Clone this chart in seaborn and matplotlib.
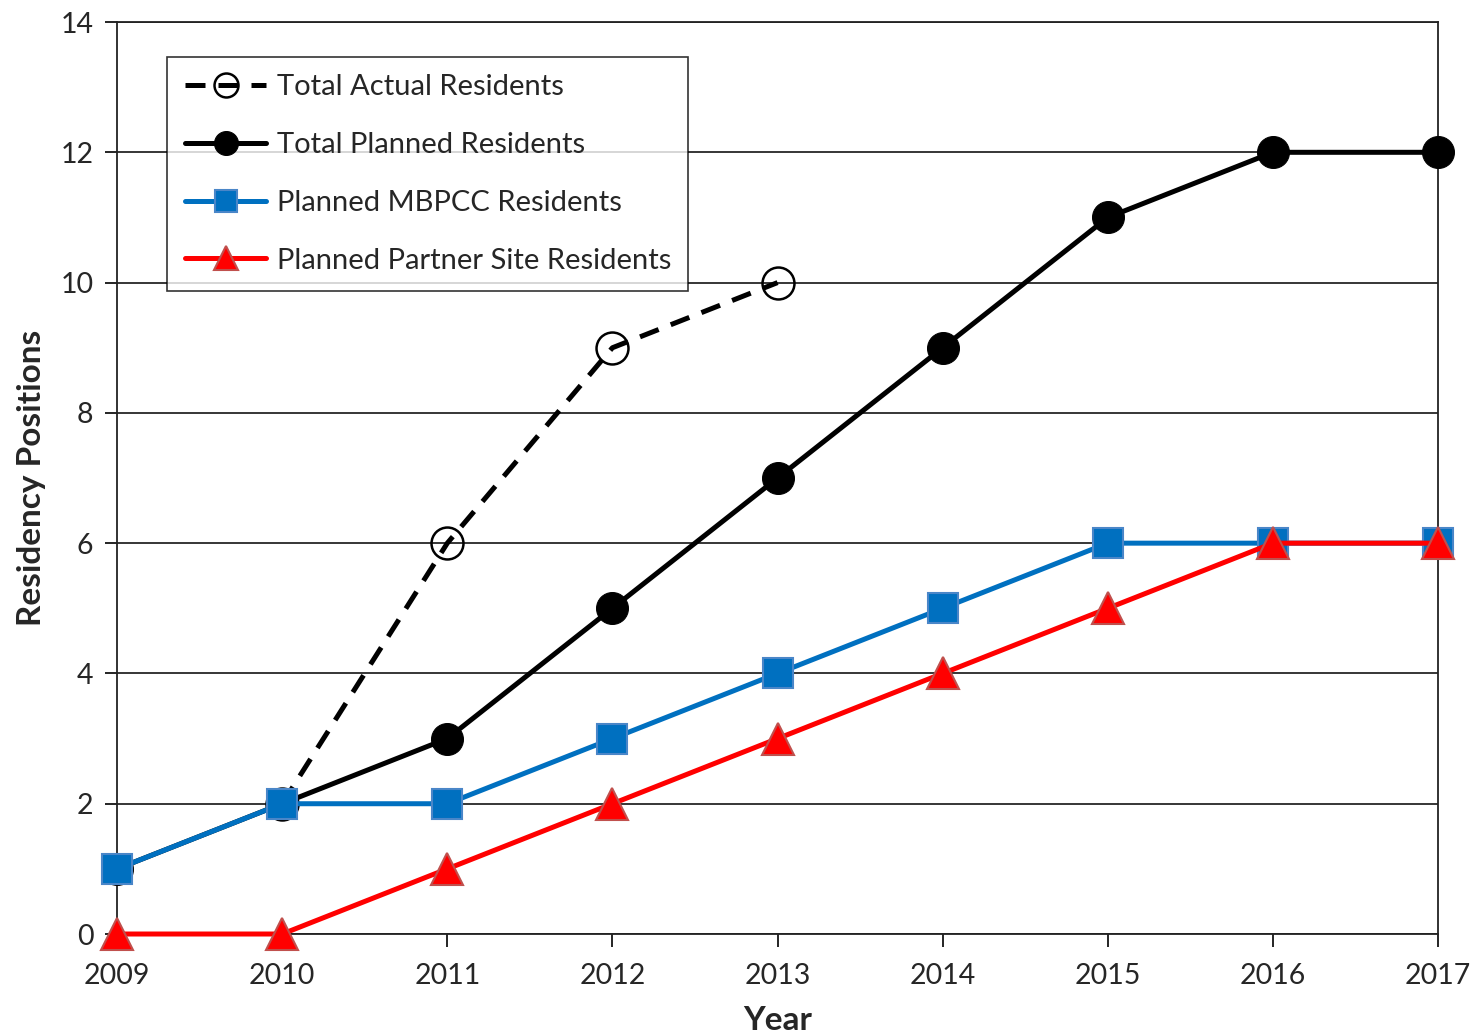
import matplotlib
matplotlib.use("Agg")
import matplotlib.pyplot as plt
import seaborn as sns

# data
years = [2009, 2010, 2011, 2012, 2013, 2014, 2015, 2016, 2017]
actual_years = [2010, 2011, 2012, 2013]
total_actual = [2, 6, 9, 10]
total_planned = [1, 2, 3, 5, 7, 9, 11, 12, 12]
planned_mbpcc = [1, 2, 2, 3, 4, 5, 6, 6, 6]
planned_partner = [0, 0, 1, 2, 3, 4, 5, 6, 6]

sns.set_style("white")
plt.rcParams['font.family'] = ['Lato', 'DejaVu Sans']

fig = plt.figure(figsize=(14.76, 10.34), dpi=100)
ax = fig.add_axes([0.0793, 0.0967, 0.8950, 0.8820])

lw = 3.6
# series
sns.lineplot(x=actual_years, y=total_actual, ax=ax, color='black', linewidth=lw,
             linestyle=(0, (4, 2.6)), marker='o', markersize=23, markerfacecolor='none',
             markeredgecolor='black', markeredgewidth=1.8, label='Total Actual Residents',
             zorder=3, clip_on=False)
sns.lineplot(x=years, y=total_planned, ax=ax, color='black', linewidth=lw,
             marker='o', markersize=23, markeredgecolor='black',
             label='Total Planned Residents', zorder=4, clip_on=False)
sns.lineplot(x=years, y=planned_mbpcc, ax=ax, color='#0070C0', linewidth=lw,
             marker='s', markersize=21, markeredgecolor='#4A86C8', markeredgewidth=1.5,
             label='Planned MBPCC Residents', zorder=5, clip_on=False)
sns.lineplot(x=years, y=planned_partner, ax=ax, color='#FF0000', linewidth=lw,
             marker='^', markersize=23, markeredgecolor='#C0504D', markeredgewidth=1.5,
             label='Planned Partner Site Residents', zorder=6, clip_on=False)

# axes
ax.set_xlim(2009, 2017)
ax.set_ylim(0, 14)
ax.set_xticks(years)
ax.set_yticks(range(0, 15, 2))
ax.yaxis.grid(True, color='black', linewidth=1.1)
ax.xaxis.grid(False)
for s in ax.spines.values():
    s.set_color('#222222')
    s.set_linewidth(1.3)
ax.tick_params(axis='both', which='major', labelsize=20.5, direction='out',
               length=9, width=1.2, color='black', bottom=True, left=True)
ax.tick_params(axis='x', pad=12)
ax.tick_params(axis='y', pad=8)
ax.set_xlabel('Year', fontsize=24, fontweight='bold', labelpad=12)
ax.set_ylabel('Residency Positions', fontsize=24, fontweight='bold', labelpad=10)
ax.set_axisbelow(True)

leg = ax.legend(loc='upper left', bbox_to_anchor=(0.038, 0.962), borderaxespad=0,
                fontsize=21, frameon=True, fancybox=False, edgecolor='black',
                handlelength=2.8, handletextpad=0.35, labelspacing=1.09,
                borderpad=0.6, markerscale=0.75)
leg.get_frame().set_linewidth(1.2)
leg.set_zorder(10)

fig.savefig('out.png', dpi=100, facecolor='white')
